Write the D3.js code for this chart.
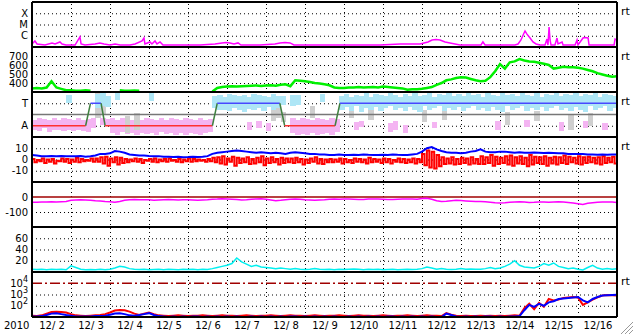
<!DOCTYPE html>
<html><head><meta charset="utf-8">
<script src="https://cdn.jsdelivr.net/npm/d3@7"></script>
<style>
body{margin:0;background:#fff;}
svg text{font-family:"DejaVu Sans",sans-serif;}
</style></head><body>
<svg id="chart" width="633" height="334"></svg>
<script>
// time is hours since 2010-12-02 00 UT, 3-hour samples unless noted
const xrayHours = [0,1.8,3.1,8,12.3,14.2,17.2,18.5,20.9,26.5,29.5,30.2,32.6,38.8,41.8,44.3,48,51.1,54.2,60.3,63.4,67.7,68.9,69.5,72.6,73.8,75.7,76.9,78.8,80.6,84.9,97.2,103.4,112.6,116.9,119.4,121.8,124.3,126.8,128.6,140.3,149.5,152.6,155.7,158.8,161.2,164.9,177.2,195.7,214.2,226.5,238.8,243.7,246.2,248.6,251.1,254.2,257.2,260.3,263.4,272.6,276.3,277.5,278.8,288,297.2,299.1,300.9,302.8,303.4,304.6,306.5,308.3,310.2,312.6,315.7,316.9,317.5,318.2,318.8,319.4,321.8,323.1,323.7,326.2,326.8,334.2,335.4,336,339.1,340.3,342.2,342.8,349.5,358.2,358.8,360];
const xrayFlux = [1.85e-7,3.4e-7,1.85e-7,1.5e-7,2.3e-7,1.85e-7,2.8e-7,1.85e-7,1.5e-7,1.5e-7,7.8e-7,1.85e-7,1.5e-7,1.85e-7,2.3e-7,1.85e-7,1.5e-7,1.85e-7,1.5e-7,1.5e-7,1.85e-7,3.4e-7,6.3e-7,1.85e-7,2.8e-7,1.85e-7,3.4e-7,1.85e-7,2.8e-7,1.5e-7,1.5e-7,1.5e-7,1.5e-7,1.85e-7,2.3e-7,2.5e-7,2.3e-7,1.85e-7,2.3e-7,1.5e-7,1.5e-7,1.85e-7,2.3e-7,2.5e-7,2.3e-7,1.5e-7,1.5e-7,1.5e-7,1.5e-7,1.5e-7,1.85e-7,1.85e-7,2.8e-7,4.2e-7,4.6e-7,4.2e-7,2.8e-7,2.3e-7,1.85e-7,1.5e-7,1.5e-7,1.5e-7,2.8e-7,1.5e-7,1.5e-7,1.5e-7,1.85e-7,4.2e-7,1.75e-6,2.6e-6,1.4e-6,6.3e-7,2.8e-7,1.85e-7,1.5e-7,1.5e-7,5.1e-7,1.5e-7,6e-6,4.2e-7,1.5e-7,1.5e-7,6.3e-7,1.85e-7,2.8e-7,1.5e-7,1.5e-7,4.2e-7,1.5e-7,6.3e-7,7e-7,6.3e-7,1.5e-7,1.5e-7,1.5e-7,5.1e-7,4.2e-7];

const speed = [340,345,340,350,420,350,335,320,320,315,315,320,315,
  null,null,null,null,null,
  320,315,315,318,315,
  null,null,null,null,null,null,null,null,null,null,null,null,null,null,
  305,345,355,360,365,360,365,368,370,372,368,372,375,370,
  380,385,365,430,425,420,410,400,395,385,375,
  350,345,345,350,350,355,350,352,355,350,360,355,350,345,340,
  325,330,330,335,345,355,380,400,430,440,455,465,460,
  445,430,420,425,465,530,610,560,630,640,665,650,640,635,625,615,
  600,560,570,580,575,575,570,560,545,530,510,495,480,470,475];

// IMF sector polarity: breakpoints (hours) and state
const sectorHours = [0,33,36,42.5,45,111,114,152.5,155.5,186.5,189.5,360];
const sectorState = ["A","A","T","T","A","A","T","T","A","A","T","T"];

// phi clouds: [bin start hour, lo deg, hi deg]
const towardCloud = [[21,270,340],[39,230,345],[42,250,350],[45,240,330],[51,300,350],[72,290,350],
  [111,230,330],[114,215,340],[117,220,320],[120,210,345],[123,230,335],[126,220,330],[129,200,340],[132,225,320],
  [135,215,345],[138,230,335],[141,210,330],[144,240,320],[147,220,345],[150,235,325],[153,260,330],
  [159,250,335],[162,255,340],[177,280,345],
  [189,220,330],[192,240,345],[195,210,320],[198,250,340],[201,200,330],[204,230,350],[207,220,320],[210,240,345],
  [213,205,335],[216,230,325],[219,250,350],[222,215,340],[225,235,320],[228,210,345],[231,240,330],[234,220,350],
  [237,200,325],[240,245,340],[243,215,350],[246,230,320],[249,250,345],[252,210,335],[255,235,350],[258,220,325],
  [261,240,345],[264,205,330],[267,230,350],[270,250,335],[273,215,345],[276,235,320],[279,210,350],[282,240,340],
  [285,220,330],[288,200,350],[291,245,335],[294,215,345],[297,230,325],[300,250,350],[303,210,340],[306,235,330],
  [309,220,350],[312,240,320],[315,205,345],[318,230,335],[321,250,350],[324,215,325],[327,235,345],[330,210,340],
  [333,240,350],[336,220,330],[339,200,345],[342,245,335],[345,215,350],[348,230,320],[351,250,345],[354,210,340],[357,235,330]];
const awayCloud = [[0,60,140],[3,50,150],[6,70,145],[9,40,135],[12,60,150],[15,55,140],[18,50,150],
  [21,60,145],[24,45,140],[27,60,150],[30,50,135],[33,40,145],[36,70,150],[42,100,150],[45,90,145],
  [48,30,150],[51,20,140],[54,40,150],[57,25,145],[60,30,135],[63,20,150],[66,35,140],[69,25,150],[72,30,145],
  [75,20,140],[78,40,150],[81,25,135],[84,30,150],[87,15,145],[90,35,140],[93,20,150],[96,30,145],[99,25,140],
  [102,20,150],[105,30,135],[108,40,145],[132,60,120],[138,70,130],[144,50,110],
  [159,30,150],[162,20,140],[165,25,150],[168,15,145],[171,30,140],[174,20,150],[177,25,145],[180,30,135],
  [183,20,150],[186,40,145],[198,60,120],[201,80,130],[219,40,110],[222,60,130],[228,30,100],[246,70,120],
  [285,60,130],[303,80,140],[324,50,120],[339,70,130],[351,60,110]];
const grayCloud = [[39,150,350],[42,180,330],[57,30,170],[63,60,190],[147,130,230],[150,150,240],[153,120,200],
  [171,150,250],[195,150,230],[207,140,220],[240,120,220],[252,140,210],[291,100,200],[309,130,210],[330,60,180],[342,90,190]];

const bt = [4,3.5,3,3,3.2,3,3.2,3, 3,2.8,3,2.5,2.8,3.5,5, 5,5.5, 7.5,7,6, 4.5,4,3.5,3.5, 3.2,3,3,2.5,2.5,
  2.2,2.5,2,2.2,2.5,2.2,2.5,3, 5,6,6.5,7,7.5,8,7.5,7,6.5,6,6.5,6,5.5,6,5.5,5, 6,6.5,6,5.5,5,5,4.5,4.5,
  4,4,4.5,4,4,4.2,4,4.5,4.2,4,4,4.3,4,4.5,4.2,4,4,4.5,5, 7,10,11,9,7.5, 6.5,6,6,5.5,6,7,7.5, 9,7,6.5,6.5,
  7,7,6.5,6,6.5,6,6,6.2,6,5.8,6,5.8,5.5,5.5,5,5, 5,4.8,4.5,4.5,4.2,4.5,4.2,4.5,4.5];
const bzHigh = [0.5,-0.5,1,0,0.5,-1,1,0.5,0,1.5,0.5,-0.5,1, 1,2,2.5,1,2,1.5,0.5,
  0,1,0.5,-0.5,0.5,1,0,0.5,1,-0.5,0.5,0,1,0.5,0,-0.5,0.5, 1.5,2,3,1,2.5,1.5,1,2,0.5,1.5,3,1,2,0.5,1.5,1,
  1,1.5,0.5,0,1,2,0.5,0, 0.5,0,1,0.5,-0.5,1,0.5,0,1.5,0.5,0,1,0.5,-0.5,1,0.5,0,1,0.5, 5,8,7,4,2,
  1,2,0.5,1.5,1,2,0.5,
  3,2,4,2.5,1.5,3,3.5,2,3,1.5,4,2.5,2,3,1.5,2.5,2,3.5,2.5,1.5,3,2,2.5,1.5,2,3,1.5,2.5,2];
const bzLow = [-2.5,-1.5,-3,-2,-3.5,-1.5,-2,-3,-2,-2.5,-1.5,-1,-2, -2,-3.5,-5.5,-2.5,-4.5,-3,-2.5,
  -1.5,-2,-3,-1,-2,-2.5,-1.5,-2,-1,-2,-2.5,-1.5,-2,-1.5,-1,-2,-1.5,
  -2.5,-3.5,-4.5,-2,-5.5,-3,-2.5,-4,-3.5,-2.5,-5,-3,-2.5,-4.5,-3,-2.5,
  -3,-2.5,-4.5,-3,-2,-3.5,-4,-2.5, -2.5,-2,-3.5,-2.5,-3,-2,-2.5,-3.5,-2.5,-2,-3,-2.5,-3.5,-2,-2.5,-3,-2.5,-3.5,-2.5,
  -5,-7,-8,-6,-4, -3.5,-4.5,-4,-3,-4.5,-3.5,-4,
  -4,-3,-5.5,-4,-3,-4.5,-5.5,-3.5,-4,-6,-4.5,-3,-4,-5.5,-3.5,-4.5,-3,-4,-2.5,-3.5,-4.5,-3,-2.5,-3.5,-4.5,-3,-2.5,-3.5,-2.5];

const dst = [-35,-35,-33,-34,-32,-33,-31,-30, -22,-20,-18,-20,-22, -25,-27,-30,-32, -35,-30,-22, -18,-17,-18,-19,-18,
  -22,-20,-18,-17,-18,-20,-19,-18,-20,-22,-20,-18, -15,-14,-12,-13,-15,-17,-20,-18,-15,-13,-12,-15,-20,-25,-22,-18,
  -15,-14,-15,-18,-20,-22,-20,-18, -15,-14,-15,-14,-13,-15,-17,-16,-14,-13,-14,-15,-17,-16,-15,-14,-13,-14,-15,
  -10,-8,-15,-25,-30,-28,-25,-22,-24,-26,-28,-30,
  -30,-32,-35,-38,-40,-38,-35,-33,-32,-34,-36,-35,-33,-34,-35,-33,-32,-34,-36,-40,-45,-50,-42,-38,-35,-34,-33,-34,-36];

const density = [5,4.5,5,4,5,4.5,5,4, 11,8, 5,4,4.5,4,5,4,5, 7,10,9,6,
  5,4.5,5,4,4.5,5,4,5,4.5,4,5,4.5,5,4,5,4.5, 6,8,10,12,15,25,18,14,10,12,9,8,7,6,7,6,
  5,6,5,4.5,5,6,5,4.5,5,4,5,4.5,5,5.5,5,4,5,4.5,5,4,4.5,5,4,4.5,5,4.5,5,
  6,9,7,5,6,5,4.5,5,6,5,5.5,5,
  5,6,8,6,7,10,14,20,12,9,8,7,10,15,12,16,10,8,6,7,5,3.5,8,12,7,5,6,5,6];

const electronA = [13,12,14, 20,28,30,28,25,18, 14,13,12,13,14,15,18, 25,38,42,40,30,20, 15,20,25,18,14,
  13,12,13,14,13,12,13,13,14,13, 12,13,14,13,13,12,13,14,13,12, 13,13,14,13,12,13,14,13,13,12,
  13,14,13,12,13,13,14,13,12,13, 14,13,13,12,13,14,13,12,13,13, 14,13,12,13,14,13,13,12,
  22,16,13,12,13,12, 12,13,12,13,12,13,12,13,14,13,60,
  150,50,180,80,400,300,350,500,550,600,550,120,200,350,550,800,900,850,800];
const electronB = [11,11,12, 15,20,22,18,15,13, 11,11,11,11,12,12,13, 16,20,22,18,14,13, 15,18,22,15,12,
  11,10,11,10,11,10,11,11,10,11, 10,11,10,11,10,11,10,10,11,10, 11,10,11,10,11,10,11,11,10,11,
  10,11,10,11,10,11,10,10,11,10, 11,10,11,10,11,10,11,11,10,11, 10,11,10,11,10,11,10,10,20,15,
  11,10,11,10,11,10,11,11,10,11,10,11, 11,12,40,
  120,80,150,100,200,250,400,450,500,550,600,300,200,400,600,800,850,900,950];

const dayTicks = d3.range(24, 360, 24);
const labelTicks = d3.range(12, 360, 24);

const svg = d3.select("#chart");
const left = 32, right = 617, top0 = 2, ph = 45;
const x = d3.scaleLinear().domain([0, 360]).range([left, right]);
const hours3 = d3.range(0, 361, 3);
const ptop = k => top0 + k * ph;

const yX = d3.scaleLog().domain([1e-7, 1e-3]).range([ptop(1), ptop(0)]);
const yV = d3.scaleLinear().domain([300, 800]).range([ptop(2), ptop(1)]);
const yPhi = d3.scaleLinear().domain([0, 360]).range([ptop(3), ptop(2)]);
const yB = d3.scaleLinear().domain([-20, 20]).range([ptop(4), ptop(3)]);
const yD = d3.scaleLinear().domain([-200, 100]).range([ptop(5), ptop(4)]);
const yN = d3.scaleLinear().domain([0, 80]).range([ptop(6), ptop(5)]);
const yE = d3.scaleLog().domain([10, 1e5]).range([ptop(7), ptop(6)]);

// clip paths per panel
const defs = svg.append("defs");
for (let k = 0; k < 7; k++) {
  defs.append("clipPath").attr("id", "clip" + k)
    .append("rect").attr("x", left).attr("y", ptop(k)).attr("width", right - left).attr("height", ph);
}
const panel = k => svg.append("g").attr("clip-path", `url(#clip${k})`);

function grid(y, ticks, fmt) {
  const g = svg.append("g").attr("transform", `translate(${left},0)`)
    .call(d3.axisLeft(y).tickValues(ticks).tickSize(-(right - left)).tickPadding(4).tickFormat(fmt));
  g.select(".domain").remove();
  g.selectAll("line").attr("stroke", "#000").attr("stroke-dasharray", "1,3");
  g.selectAll("text").attr("font-size", 10).attr("fill", "#000");
  return g;
}

// vertical day grid
const vg = svg.append("g").attr("transform", `translate(0,${ptop(7)})`)
  .call(d3.axisBottom(x).tickValues(dayTicks).tickSize(-(ptop(7) - ptop(0))).tickFormat(""));
vg.select(".domain").remove();
vg.selectAll("line").attr("stroke", "#000").attr("stroke-dasharray", "1,3");

// horizontal grids + labels
grid(yX, [1e-4, 1e-5, 1e-6], d => ({1e-4: "X", 1e-5: "M", 1e-6: "C"})[d]);
grid(yV, [700, 600, 500, 400], d => d);
grid(yPhi, [270, 90], d => d === 270 ? "T" : "A");
grid(yB, [10, 0, -10], d => d);
const gD = grid(yD, [0, -100], d => d);
gD.selectAll(".tick").filter(d => d === 0).select("line").remove();
grid(yN, [60, 40, 20], d => d);
const gE = grid(yE, [1e4, 1e3, 1e2], () => "");
gE.selectAll(".tick").filter(d => d === 1e4).select("line").remove();
gE.selectAll(".tick text").each(function(d) {
  const t = d3.select(this);
  t.append("tspan").text("10");
  t.append("tspan").attr("dy", -5).attr("font-size", 8).text(Math.round(Math.log10(d)));
});

// 1. x-ray
const p0 = panel(0);
p0.append("path").datum(xrayHours.map((h, i) => [h, xrayFlux[i]]))
  .attr("fill", "none").attr("stroke", "#ff00ff").attr("stroke-width", 1.5)
  .attr("d", d3.line().x(d => x(d[0])).y(d => yX(d[1])));

// 2. solar wind speed
const p1 = panel(1);
p1.append("path").datum(hours3.map((h, i) => [h, speed[i]]))
  .attr("fill", "none").attr("stroke", "#00f000").attr("stroke-width", 2.5)
  .attr("d", d3.line().defined(d => d[1] != null).x(d => x(d[0])).y(d => yV(d[1])));

// 3. IMF phi / sector
const p2 = panel(2);
function cloud(bins, color) {
  p2.selectAll(null).data(bins).join("rect")
    .attr("x", d => x(d[0])).attr("width", d => x(d[0] + 3) - x(d[0]) + 0.6)
    .attr("y", d => yPhi(d[2])).attr("height", d => yPhi(d[1]) - yPhi(d[2]))
    .attr("fill", color).attr("shape-rendering", "crispEdges");
}
cloud(awayCloud, "#f4b4f2");
cloud(grayCloud, "#cfcfcf");
cloud(towardCloud, "#aee6f6");
p2.append("line").attr("x1", left).attr("x2", right).attr("y1", yPhi(180)).attr("y2", yPhi(180))
  .attr("stroke", "#777").attr("stroke-width", 1.5);
const polY = s => yPhi(s === "T" ? 270 : 90);
for (let i = 0; i < sectorHours.length - 1; i++) {
  const a = sectorState[i], b = sectorState[i + 1];
  p2.append("line")
    .attr("x1", x(sectorHours[i])).attr("x2", x(sectorHours[i + 1]))
    .attr("y1", polY(a)).attr("y2", polY(b))
    .attr("stroke", a !== b ? "#408040" : (a === "T" ? "#4848ff" : "#ff3030"))
    .attr("stroke-width", 1.5);
}

// 4. Bt / Bz
const p3 = panel(3);
const bzPts = [];
hours3.forEach((h, i) => { bzPts.push([h, bzHigh[i]]); bzPts.push([h + 1.5, bzLow[i]]); });
p3.append("path").datum(bzPts)
  .attr("fill", "none").attr("stroke", "#ff0000").attr("stroke-width", 2)
  .attr("d", d3.line().curve(d3.curveStepAfter).x(d => x(d[0])).y(d => yB(d[1])));
p3.append("path").datum(hours3.map((h, i) => [h, bt[i]]))
  .attr("fill", "none").attr("stroke", "#0000ff").attr("stroke-width", 2)
  .attr("d", d3.line().x(d => x(d[0])).y(d => yB(d[1])));

// 5. Dst
const p4 = panel(4);
p4.append("line").attr("x1", left).attr("x2", right).attr("y1", yD(0)).attr("y2", yD(0))
  .attr("stroke", "#a00000").attr("stroke-width", 1.5);
p4.append("path").datum(hours3.map((h, i) => [h, dst[i]]))
  .attr("fill", "none").attr("stroke", "#ff00ff").attr("stroke-width", 1.5)
  .attr("d", d3.line().x(d => x(d[0])).y(d => yD(d[1])));

// 6. density
const p5 = panel(5);
p5.append("path").datum(hours3.map((h, i) => [h, density[i]]))
  .attr("fill", "none").attr("stroke", "#00f0f0").attr("stroke-width", 1.5)
  .attr("d", d3.line().x(d => x(d[0])).y(d => yN(d[1])));

// 7. electrons
const p6 = panel(6);
p6.append("line").attr("x1", left).attr("x2", right).attr("y1", yE(1e4)).attr("y2", yE(1e4))
  .attr("stroke", "#a00000").attr("stroke-width", 1.5).attr("stroke-dasharray", "10,3,2,3");
p6.append("path").datum(hours3.map((h, i) => [h, electronA[i]]))
  .attr("fill", "none").attr("stroke", "#ff0000").attr("stroke-width", 2)
  .attr("d", d3.line().x(d => x(d[0])).y(d => yE(d[1])));
p6.append("path").datum(hours3.map((h, i) => [h, electronB[i]]))
  .attr("fill", "none").attr("stroke", "#0000ff").attr("stroke-width", 2)
  .attr("d", d3.line().x(d => x(d[0])).y(d => yE(d[1])));

// frame and separators
for (let k = 0; k <= 7; k++) {
  svg.append("line").attr("x1", left).attr("x2", right).attr("y1", ptop(k)).attr("y2", ptop(k))
    .attr("stroke", "#000").attr("stroke-width", 2);
}
[left, right].forEach(xx => svg.append("line").attr("x1", xx).attr("x2", xx)
  .attr("y1", ptop(0)).attr("y2", ptop(7)).attr("stroke", "#000").attr("stroke-width", 2));

// "rt" markers on the right
[0, 1, 2, 3, 6].forEach(k => svg.append("text").attr("x", 621).attr("y", ptop(k) + 13)
  .attr("font-size", 11).text("rt"));

// date labels
const xa = svg.append("g").attr("transform", `translate(0,${ptop(7)})`)
  .call(d3.axisBottom(x).tickValues(labelTicks).tickSize(0).tickPadding(5)
    .tickFormat(h => { const d = 2 + Math.floor(h / 24); return "12/" + (d < 10 ? " " + d : d); }));
xa.select(".domain").remove();
xa.selectAll("text").attr("font-size", 10).attr("fill", "#000");
svg.append("text").attr("x", 4).attr("y", 329).attr("font-size", 10).text("2010");

// resize grip
[0, 4, 8].forEach(o => svg.append("line").attr("x1", 621 + o).attr("y1", 334).attr("x2", 633).attr("y2", 322 + o)
  .attr("stroke", "#999").attr("stroke-width", 1));
</script></body></html>
